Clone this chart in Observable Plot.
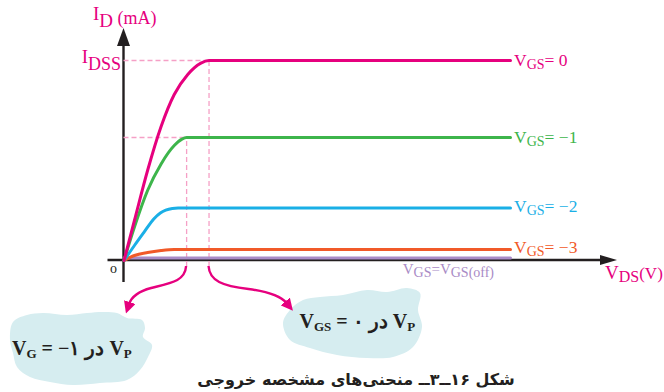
<!DOCTYPE html>
<html><head><meta charset="utf-8">
<script src="https://cdn.jsdelivr.net/npm/d3@7"></script>
<script src="https://cdn.jsdelivr.net/npm/@observablehq/plot@0.6"></script>
<style>body{margin:0;background:#fff} svg{display:block}</style>
</head><body><div id="chart"></div>
<script>
// ---- data (VDS and ID in arbitrary units) ----
const seriesVgs = ["0", "−1", "−2", "−3"];
const vds0 = [0, 0.27, 0.61, 0.96, 1.30, 1.65, 1.99, 2.2, 10];
const id0  = [0, 2.0, 4.5, 6.7, 8.3, 9.3, 9.87, 10, 10];
const vds1 = [0, 0.27, 0.61, 0.96, 1.30, 1.50, 1.62, 10];
const id1  = [0, 1.67, 3.5, 4.83, 5.75, 6.07, 6.15, 6.15];
const vds2 = [0, 0.27, 0.52, 0.77, 0.94, 1.08, 1.25, 1.4, 10];
const id2  = [0, 0.75, 1.42, 2.08, 2.38, 2.52, 2.6, 2.62, 2.62];
const vds3 = [0, 0.27, 0.61, 0.96, 1.30, 10];
const id3  = [0, 0.25, 0.4, 0.5, 0.55, 0.55];
const vdsOff = [0, 10];
const idOff  = [0.12, 0.12];
const pinchVds = [2.2, 1.62];
const pinchId  = [10, 6.15];

// ---- styles ----
const palette = ["#e6007e", "#3db54b", "#1aafe6", "#f15a29"];
const offColor = "#a98bc6";
const dashColor = "#f5a0c6";
const axisColor = "#231f20";
const cloudColor = "#d6edf0";
const serif = "'Liberation Serif', 'Times New Roman', serif";

const curves = [
  {s: "off", vds: vdsOff, id: idOff},
  {s: seriesVgs[3], vds: vds3, id: id3},
  {s: seriesVgs[2], vds: vds2, id: id2},
  {s: seriesVgs[1], vds: vds1, id: id1},
  {s: seriesVgs[0], vds: vds0, id: id0}
];
const rows = curves.flatMap(c => c.vds.map((v, j) => ({vds: v, id: c.id[j], s: c.s})));

const plot = Plot.plot({
  width: 664, height: 392, margin: 0,
  style: {background: "white", overflow: "visible"},
  x: {domain: [0, 10], range: [123.5, 510], axis: null},
  y: {domain: [0, 10], range: [260, 60], axis: null},
  color: {domain: [...seriesVgs, "off"], range: [...palette, offColor]},
  marks: [
    Plot.ruleY(pinchId, {y: d => d, x1: 0, x2: (d, i) => pinchVds[i], stroke: dashColor, strokeWidth: 1.3, strokeDasharray: "5,3"}),
    Plot.ruleX(pinchVds, {x: d => d, y1: -0.3, y2: (d, i) => pinchId[i], stroke: dashColor, strokeWidth: 1.3, strokeDasharray: "5,3"}),
    Plot.line(rows, {x: "vds", y: "id", z: "s", stroke: "s", strokeWidth: 3, curve: "monotone-x"})
  ]
});
document.getElementById("chart").appendChild(plot);

const sx = plot.scale("x"), sy = plot.scale("y");
const X = d3.scaleLinear().domain(sx.domain).range(sx.range);
const Y = d3.scaleLinear().domain(sy.domain).range(sy.range);
const svg = d3.select(plot);
const x0 = X(0), y0 = Y(0);

// background decorations (clouds + axes) inserted below the marks
const back = svg.insert("g", ":first-child");
const cloudLine = d3.line().curve(d3.curveCatmullRomClosed);
const cloudL = [[13,322],[27,315],[43,313],[67,315],[87,313],[103,312],[117,313],[127,318],[142,320],[145,328],[143,337],[152,345],[148,357],[140,370],[127,380],[100,383],[73,385],[50,382],[30,377],[17,367],[13,353],[10,340]];
const cloudR = [[290,310],[303,300],[320,297],[343,295],[367,290],[387,292],[407,288],[420,293],[418,310],[422,327],[413,347],[393,357],[367,358],[337,355],[310,348],[290,340],[283,323]];
back.append("path").attr("d", cloudLine(cloudL)).attr("fill", cloudColor);
back.append("path").attr("d", cloudLine(cloudR)).attr("fill", cloudColor);

// axes
back.append("line").attr("x1", x0 - 16).attr("x2", 603).attr("y1", y0).attr("y2", y0)
  .attr("stroke", axisColor).attr("stroke-width", 2.4);
back.append("path").attr("d", `M617,${y0} L600,${y0 - 5} L600,${y0 + 5} Z`).attr("fill", axisColor);
back.append("line").attr("x1", x0).attr("x2", x0).attr("y1", y0 + 22).attr("y2", 42)
  .attr("stroke", axisColor).attr("stroke-width", 2.4);
back.append("path").attr("d", `M${x0},28 L${x0 - 6.5},46 L${x0 + 6.5},46 Z`).attr("fill", axisColor);

// front annotations
const front = svg.append("g").attr("text-anchor", "start");
const defs = svg.append("defs");
defs.append("marker").attr("id", "ahead").attr("viewBox", "0 0 12 12")
  .attr("refX", 2).attr("refY", 6).attr("markerWidth", 12).attr("markerHeight", 12)
  .attr("markerUnits", "userSpaceOnUse").attr("orient", "auto")
  .append("path").attr("d", "M0,0 L12,6 L0,12 Z").attr("fill", palette[0]);

const ax1 = X(pinchVds[1]), ax0 = X(pinchVds[0]);
front.append("path")
  .attr("d", `M${ax1},${y0 + 6} C${ax1 - 1},${y0 + 21} ${ax1 - 15},${y0 + 23} ${ax1 - 35},${y0 + 28} C${ax1 - 50},${y0 + 32} ${ax1 - 55},${y0 + 38} ${ax1 - 57},${y0 + 44}`)
  .attr("fill", "none").attr("stroke", palette[0]).attr("stroke-width", 2.4).attr("marker-end", "url(#ahead)");
front.append("path")
  .attr("d", `M${ax0},${y0 + 6} C${ax0 + 1},${y0 + 21} ${ax0 + 14},${y0 + 26} ${ax0 + 40},${y0 + 29} C${ax0 + 62},${y0 + 32} ${ax0 + 73},${y0 + 37} ${ax0 + 78},${y0 + 43}`)
  .attr("fill", "none").attr("stroke", palette[0]).attr("stroke-width", 2.4).attr("marker-end", "url(#ahead)");

function label(x, y, parts, color, opts = {}) {
  const t = front.append("text").attr("x", x).attr("y", y).attr("fill", color)
    .attr("font-family", opts.family || serif).attr("font-weight", opts.weight || "normal")
    .attr("text-anchor", opts.anchor || "start")
    .style("white-space", "pre");
  if (opts.dir) t.attr("direction", opts.dir);
  parts.forEach(p => t.append("tspan").attr("font-size", p[1]).attr("dy", p[2] || 0).text(p[0]));
  return t;
}

// curve labels
const lx = X(10) + 4;
const levels = [id0[id0.length - 1], id1[id1.length - 1], id2[id2.length - 1], id3[id3.length - 1]];
const lOff = [6, 5.5, 4.5, 4];
seriesVgs.forEach((v, i) => {
  label(lx, Y(levels[i]) + lOff[i], [["V", 17.5], ["GS", 14, 3.3], ["= " + v, 17.5, -3.3]], palette[i]);
});
label(402.7, 274, [["V", 15], ["GS", 14, 2.5], ["=V", 15, -2.5], ["GS(off)", 14, 2.5]], offColor);

// axis labels
label(93, 20, [["I", 19], ["D", 19, 6.7], [" (mA)", 18, -2.7]], palette[0]);
label(121, 62.7, [["I", 19], ["DSS", 18, 7]], palette[0], {anchor: "end"});
label(605, 278.5, [["V", 19], ["DS", 16, 3.5], ["(V)", 17, -3.5]], palette[0]);
label(110, 273, [["o", 14]], axisColor);

// cloud texts
label(12, 355, [["V", 20], ["G", 13, 3], [" = −۱ در V", 20, -3], ["P", 13, 3]], "#231f20", {weight: "bold"});
label(299.5, 327.7, [["V", 20], ["GS", 13, 3], [" = ۰ در V", 20, -3], ["P", 13, 3]], "#231f20", {weight: "bold"});

// caption
label(356, 385, [["شکل ۱۶ــ۳ــ منحنی‌های مشخصه خروجی", 16]], "#231f20",
  {weight: "bold", anchor: "middle", dir: "rtl", family: "'DejaVu Sans', 'Noto Sans', sans-serif"});
</script>
</body></html>
